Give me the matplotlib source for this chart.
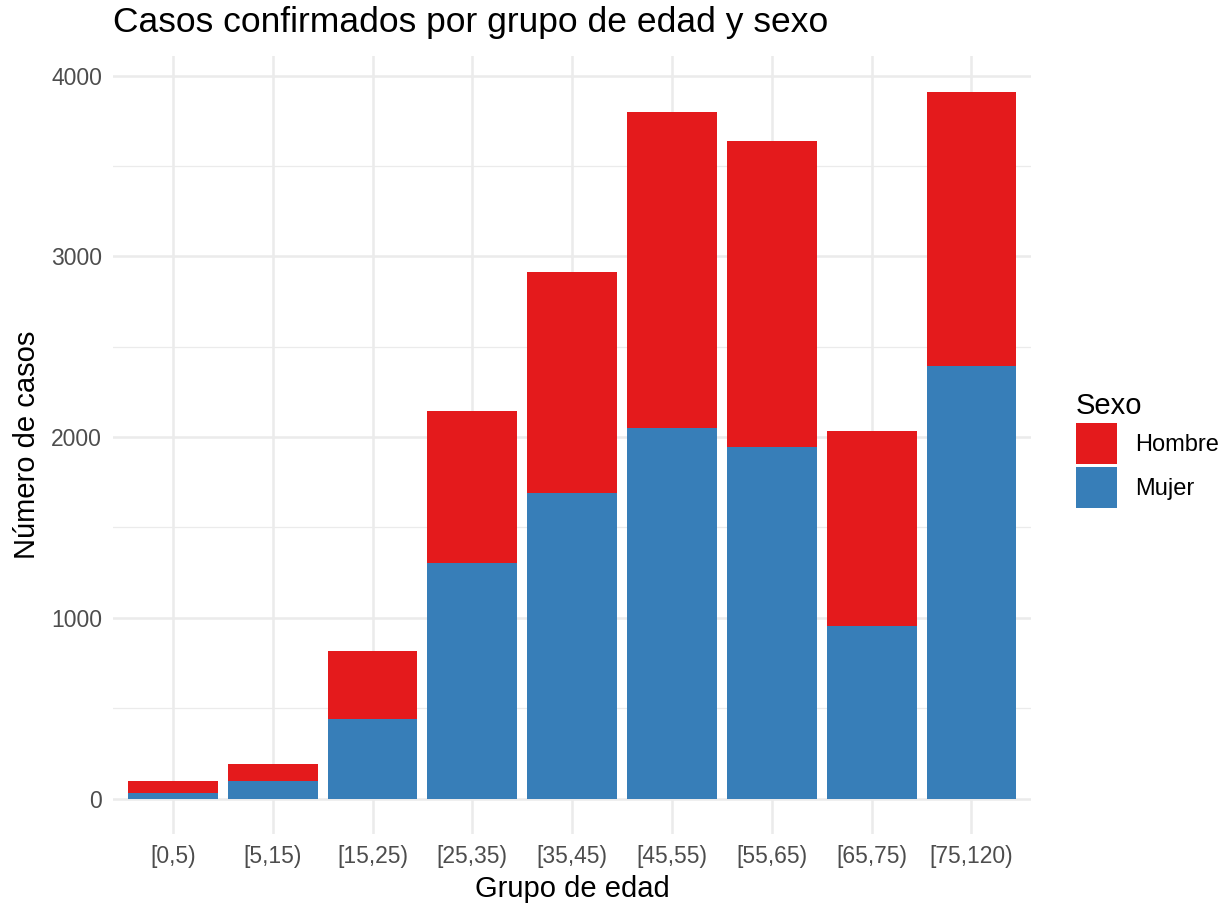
import numpy as np
import matplotlib
matplotlib.use('Agg')
import matplotlib.pyplot as plt
import matplotlib.patches as mpatches
from matplotlib.ticker import MultipleLocator

plt.rcParams['font.family'] = ['Liberation Sans', 'DejaVu Sans']

# datos
grupos = ['[0,5)', '[5,15)', '[15,25)', '[25,35)', '[35,45)', '[45,55)', '[55,65)', '[65,75)', '[75,120)']
mujer = [32, 98, 443, 1304, 1691, 2050, 1945, 956, 2392]
total = [96, 194, 817, 2144, 2912, 3801, 3641, 2033, 3912]
hombre = [t - m for t, m in zip(total, mujer)]

rojo = '#E41A1C'
azul = '#377EB8'

fig = plt.figure(figsize=(12.26, 9.06), dpi=100)
ax = fig.add_axes([0.0922, 0.0795, 0.749, 0.8585])

x = np.arange(len(grupos))
ax.bar(x, mujer, width=0.9, color=azul, zorder=3)
ax.bar(x, hombre, bottom=mujer, width=0.9, color=rojo, zorder=3)

ax.set_xlim(-0.6, len(grupos) - 0.4)
ax.set_ylim(-0.05 * max(total), max(total) * 1.05)

ax.yaxis.set_major_locator(MultipleLocator(1000))
ax.yaxis.set_minor_locator(MultipleLocator(500))
ax.set_xticks(x)
ax.set_xticklabels(grupos)

# estilo tipo theme_minimal
for s in ax.spines.values():
    s.set_visible(False)
ax.grid(which='major', color='#EBEBEB', linewidth=1.8, zorder=0)
ax.grid(which='minor', axis='y', color='#EBEBEB', linewidth=0.9, zorder=0)
ax.tick_params(which='both', length=0, labelsize=16.5, labelcolor='#4D4D4D', pad=8)

ax.set_xlabel('Grupo de edad', fontsize=21, labelpad=5)
ax.set_ylabel('Número de casos', fontsize=21, labelpad=7)

fig.text(0.0922, 0.975, 'Casos confirmados por grupo de edad y sexo', fontsize=25.5, va='center', ha='left')

# leyenda
h_leg = mpatches.Patch(facecolor=rojo, label='Hombre')
m_leg = mpatches.Patch(facecolor=azul, label='Mujer')
fig.legend(handles=[h_leg, m_leg], title='Sexo', loc='center left', bbox_to_anchor=(0.868, 0.503),
           frameon=False, fontsize=17, title_fontsize=21, handlelength=1.75, handleheight=2.3,
           labelspacing=0.12, handletextpad=0.75, borderpad=0, alignment='left')

fig.savefig('out.png', dpi=100)
